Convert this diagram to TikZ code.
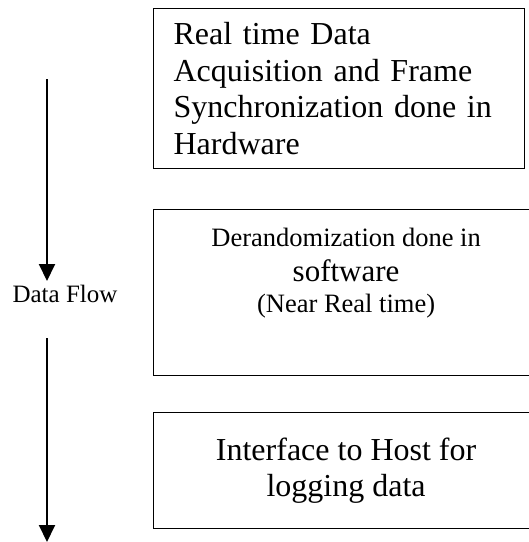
\documentclass[tikz,border=0pt]{standalone}
\usepackage{fontspec}
\setmainfont{Liberation Serif}
\usetikzlibrary{arrows.meta}

\begin{document}
\begin{tikzpicture}[x=1pt, y=-1pt]
    \tikzstyle{sbox} = [draw=black, line width=1.2pt, rectangle, anchor=north west, inner sep=0pt]
    \tikzstyle{flow} = [line width=2pt, -{Triangle[width=16pt, length=17pt]}]
    \useasboundingbox (0,0) rectangle (529,542);

    % processing stages
    \node[sbox, minimum width=371pt, minimum height=160pt, text width=331pt, inner xsep=20pt, align=left,
          font=\fontsize{32}{36.5}\selectfont] (hw) at (153,8)
      {Real time Data\\ Acquisition and Frame\\ Synchronization done in\\ Hardware};
    \node[sbox, minimum width=385pt, minimum height=166pt, align=center,
          font=\fontsize{26.5}{35}\selectfont] (sw) at (153,209)
      {Derandomization done in\\
       {\fontsize{31}{35}\selectfont software}\\[-4pt]
       (Near Real time)\\[10pt]
       \mbox{}};
    \node[sbox, minimum width=385pt, minimum height=116pt, align=center,
          font=\fontsize{32}{36}\selectfont] (host) at (153,412)
      {Interface to Host for\\ logging data};

    % data flow arrow
    \node[inner sep=0pt, font=\fontsize{25}{30}\selectfont] (dflow) at (65,294) {Data Flow};
    \coordinate (f1) at (47,79);
    \coordinate (f2) at (47,281);
    \coordinate (f3) at (47,338);
    \coordinate (f4) at (47,542);
    \draw[flow] (f1) -- (f2);
    \draw[flow] (f3) -- (f4);
\end{tikzpicture}
\end{document}
